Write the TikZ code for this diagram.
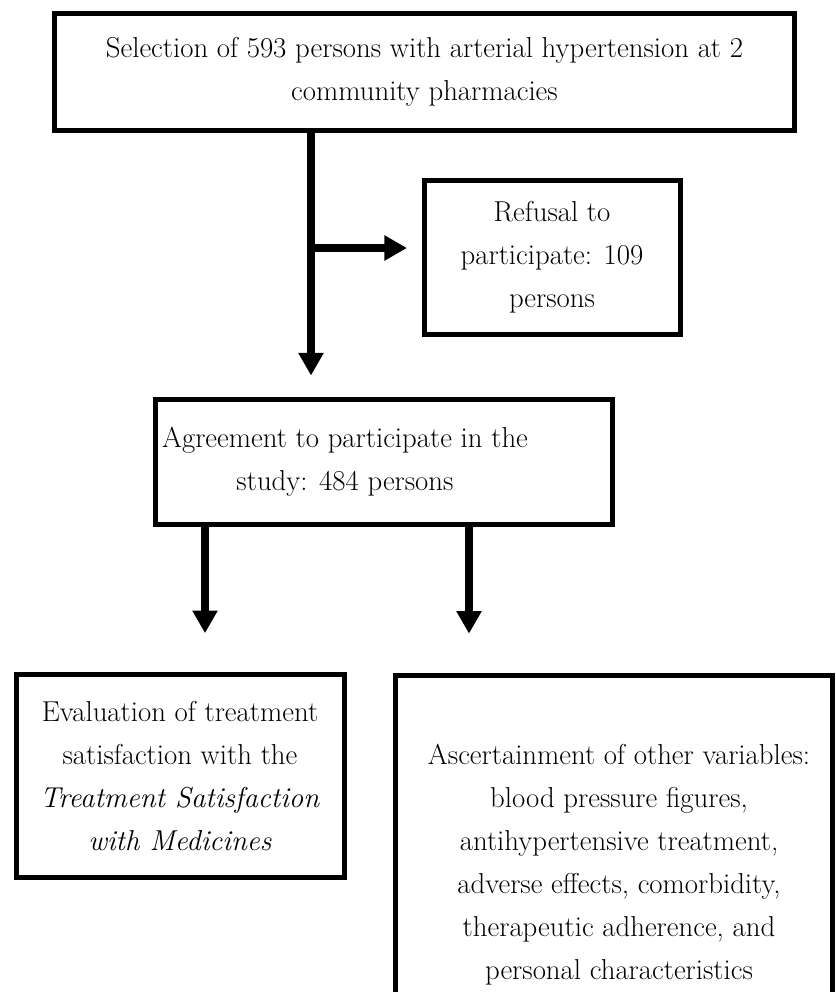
\documentclass[tikz,border=0pt]{standalone}
\usetikzlibrary{arrows.meta,calc}
\begin{document}
\begin{tikzpicture}[x=0.75pt,y=-0.75pt,
  bx/.style={draw,line width=3.75pt,inner sep=0pt,outer sep=0pt,anchor=north west},
  txt/.style={align=center,inner sep=0pt,font=\fontsize{21.6}{32.25}\selectfont},
  arr/.style={line width=6pt,-{Triangle[width=18pt,length=17pt]}}]
\useasboundingbox (0,0) rectangle (835,992);
% boxes
\node[bx,minimum width=555pt,minimum height=87.75pt] (top) at (54.5,13.5) {};
\node[bx,minimum width=192pt,minimum height=115.5pt] (refusal) at (424,180) {};
\node[bx,minimum width=342.75pt,minimum height=93.75pt] (agree) at (155,399.5) {};
\node[bx,minimum width=246pt,minimum height=152.6pt] (eval) at (16.5,674.5) {};
\node[bx,minimum width=327.75pt,minimum height=255pt] (asc) at (395,675) {};
% texts
\node[txt] (t1) at (424.5,72) {Selection of 593 persons with arterial hypertension at 2\\community pharmacies};
\node[txt] (t2) at (552,257) {Refusal to\\participate: 109\\persons};
\node[txt] (t3) at (345,462) {Agreement to participate in the\\study: 484 persons};
\node[txt] (t4) at (180,776) {Evaluation of treatment\\satisfaction with the\\\textit{Treatment Satisfaction}\\\textit{with Medicines}};
\node[txt] (t5) at (619,865) {Ascertainment of other variables:\\blood pressure figures,\\antihypertensive treatment,\\adverse effects, comorbidity,\\therapeutic adherence, and\\personal characteristics};
% connectors
\coordinate (m) at (311,0);
\coordinate (r) at (0,248);
\coordinate (a1) at (205,0);
\coordinate (a2) at (469,0);
\draw[arr,shorten >=18pt] (top.south -| m) -- (agree.north -| m);
\draw[arr,shorten >=12.75pt] (m |- r) -- (refusal.west |- r);
\draw[arr,shorten >=31pt] (agree.south -| a1) -- (eval.north -| a1);
\draw[arr,shorten >=31pt] (agree.south -| a2) -- (asc.north -| a2);
\end{tikzpicture}
\end{document}
